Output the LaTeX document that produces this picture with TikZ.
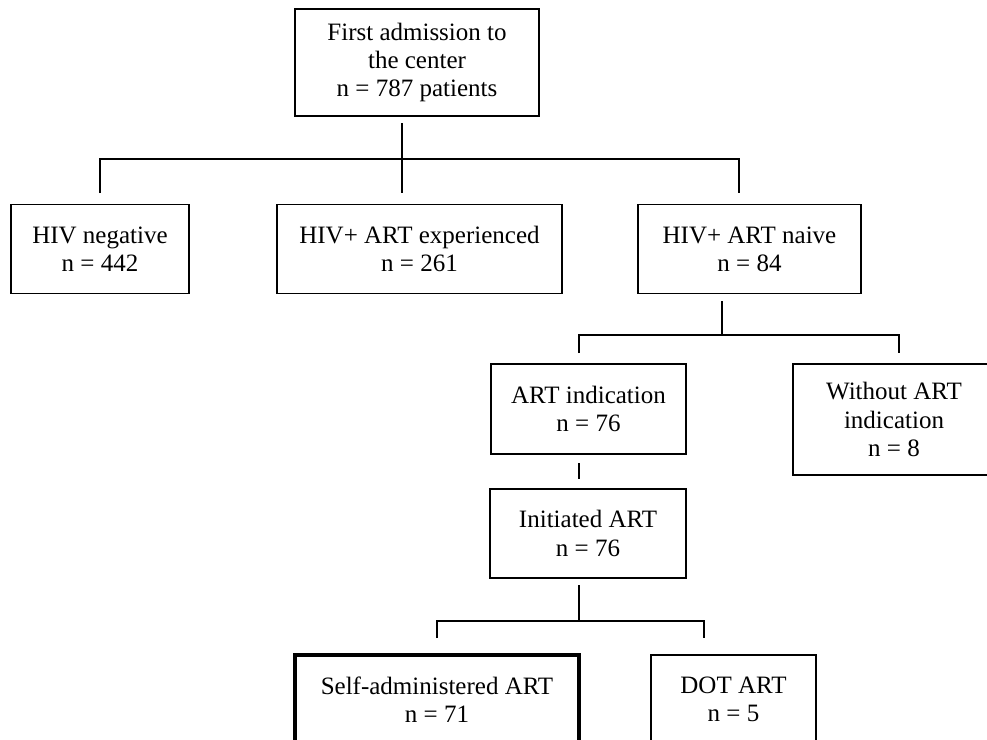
\documentclass[tikz,border=0pt]{standalone}
\usepackage{fontspec}
\setmainfont{Liberation Serif}
\usepackage{tikz}

\tikzset{
  flowbox/.style={draw, line width=0.6pt, align=center, inner sep=0pt,
    font=\fontsize{12pt}{13.5pt}\selectfont},
  link/.style={line width=0.6pt}
}

\begin{document}
\begin{tikzpicture}[x=0.48pt, y=-0.48pt]
			\useasboundingbox (0,0) rectangle (987,740);

			\node[flowbox, minimum width=117.1pt, minimum height=51.4pt] (first) at (417,62.5) {First admission to\\the center\\n = 787 patients};
			\node[flowbox, minimum width=85.4pt, minimum height=42.7pt] (neg) at (100,249) {HIV negative\\n = 442};
			\node[flowbox, minimum width=136.8pt, minimum height=42.7pt] (exp) at (419.5,249) {HIV+ ART experienced\\n = 261};
			\node[flowbox, minimum width=107pt, minimum height=42.7pt] (naive) at (749.5,249) {HIV+ ART naive\\n = 84};
			\node[flowbox, minimum width=93.6pt, minimum height=43.2pt] (ind) at (588.5,409) {ART indication\\n = 76};
			\node[flowbox, minimum width=97pt, minimum height=53.3pt] (noind) at (894,419.5) {Without ART\\indication\\n = 8};
			\node[flowbox, minimum width=94.1pt, minimum height=42.7pt] (init) at (588,533.5) {Initiated ART\\n = 76};
			\node[flowbox, line width=1.6pt, minimum width=136.3pt, minimum height=42.7pt] (self) at (437,699.5) {Self-administered ART\\n = 71};
			\node[flowbox, minimum width=79.2pt, minimum height=42.7pt] (dot) at (733.5,699.5) {DOT ART\\n = 5};

			\coordinate (first-out) at (402,123);
			\coordinate (first-mid) at (402,193);
			\coordinate (neg-in) at (100,193);
			\coordinate (naive-in) at (739,193);
			\coordinate (naive-out) at (722,301);
			\coordinate (naive-bar) at (722,335);
			\coordinate (ind-in) at (579,353);
			\coordinate (noind-in) at (899,353);
			\coordinate (ind-out) at (579,463);
			\coordinate (init-in) at (579,479);
			\coordinate (init-out) at (579,585);
			\coordinate (init-bar) at (579,621);
			\coordinate (self-in) at (437,638);
			\coordinate (dot-in) at (704,638);

			\draw[link] (first-out) to (first-mid);
			\draw[link] (neg-in) |- (naive-in |- 0,159) to (naive-in);
			\draw[link] (naive-out) to (naive-bar);
			\draw[link] (ind-in) |- (noind-in |- naive-bar) to (noind-in);
			\draw[link] (ind-out) to (init-in);
			\draw[link] (init-out) to (init-bar);
			\draw[link] (self-in) |- (dot-in |- init-bar) to (dot-in);
		\end{tikzpicture}
\end{document}
